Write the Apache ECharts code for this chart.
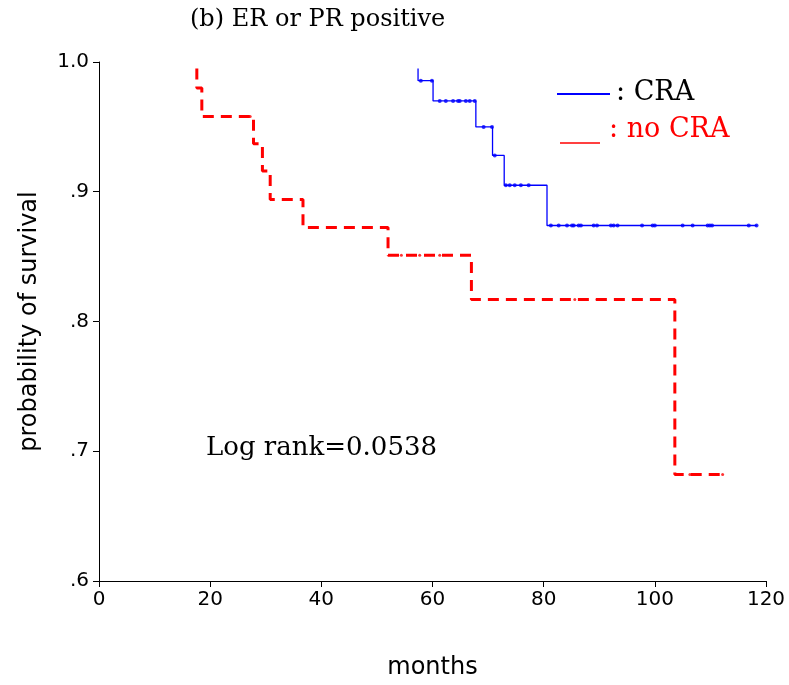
<!DOCTYPE html>
<html>
<head>
<meta charset="utf-8">
<script src="https://cdn.jsdelivr.net/npm/echarts@6/dist/echarts.min.js"></script>
<style>html,body{margin:0;padding:0;background:#fff}#c{width:789px;height:685px}</style>
</head>
<body>
<div id="c"></div>
<script>
// Kaplan-Meier step data: [month, survival after event]
const craSteps = [[57.4,0.995],[57.4,0.9856],[60.1,0.970],[67.8,0.950],[70.8,0.928],[72.9,0.905],[80.6,0.874],[118.4,0.874]];
const noCraSteps = [[17.6,0.995],[17.6,0.980],[18.5,0.958],[27.8,0.937],[29.4,0.916],[30.8,0.894],[36.7,0.8725],[52.0,0.851],[67.0,0.817],[103.6,0.682],[112.9,0.682]];
// censored observations
const craCensor = [
  [57.9,0.9856],[59.9,0.9856],
  [61.3,0.970],[62.4,0.970],[63.7,0.970],[64.6,0.970],[64.9,0.970],[66.0,0.970],[66.7,0.970],[67.6,0.970],
  [69.2,0.950],[70.7,0.950],
  [71.2,0.928],
  [73.2,0.905],[73.9,0.905],[74.8,0.905],[75.9,0.905],[77.3,0.905],
  [81.3,0.874],[82.7,0.874],[84.2,0.874],[85.1,0.874],[85.4,0.874],[86.3,0.874],[86.7,0.874],[89.0,0.874],[89.6,0.874],
  [92.1,0.874],[92.6,0.874],[93.3,0.874],[97.7,0.874],[99.6,0.874],[100.0,0.874],[105.0,0.874],[106.8,0.874],
  [109.5,0.874],[109.9,0.874],[110.3,0.874],[116.9,0.874],[118.3,0.874]
];
const noCraCensor = [[27.2,0.958],[54.4,0.851],[57.7,0.851],[61.3,0.851],[73.9,0.817],[77.5,0.817],[85.6,0.817],[89.6,0.817],[106.3,0.682],[112.2,0.682]];
const xTicks = [0,20,40,60,80,100,120];
const yTickLabels = {'0.6':'.6','0.7':'.7','0.8':'.8','0.9':'.9','1':'1.0'};

const chart = echarts.init(document.getElementById('c'), null, {renderer:'canvas'});
const serif = '"DejaVu Serif", "Liberation Serif", serif';
const sans = '"DejaVu Sans", "Liberation Sans", sans-serif';
chart.setOption({
  animation:false,
  backgroundColor:'#fff',
  grid:{left:99, right:23, top:62, bottom:104},
  xAxis:{
    type:'value', min:xTicks[0], max:xTicks[xTicks.length-1], interval:20,
    name:'months', nameLocation:'middle', nameGap:75,
    nameTextStyle:{fontFamily:sans, fontSize:24, color:'#000'},
    axisLine:{lineStyle:{color:'#000', width:1}},
    axisTick:{length:6, lineStyle:{color:'#000'}},
    axisLabel:{fontFamily:sans, fontSize:20, color:'#000', margin:9},
    splitLine:{show:false}
  },
  yAxis:{
    type:'value', min:0.6, max:1.0, interval:0.1,
    name:'probability of survival', nameLocation:'middle', nameGap:57, nameRotate:90,
    nameTextStyle:{fontFamily:sans, fontSize:24, color:'#000'},
    axisLine:{show:true, lineStyle:{color:'#000', width:1}},
    axisTick:{show:true, length:6, lineStyle:{color:'#000'}},
    axisLabel:{fontFamily:sans, fontSize:20, color:'#000', margin:10,
      formatter:v=>yTickLabels[String(Math.round(v*10)/10)] || ''},
    splitLine:{show:false}
  },
  series:[
    {type:'line', step:'end', data:craSteps, showSymbol:false, symbol:'none',
     lineStyle:{color:'#0000ff', width:1.3}},
    {type:'scatter', data:craCensor, symbol:'circle', symbolSize:4, itemStyle:{color:'#0000ff'}},
    {type:'line', step:'end', data:noCraSteps, showSymbol:false, symbol:'none',
     lineStyle:{color:'#ff0000', width:3, type:[11,7]}},
    {type:'scatter', data:noCraCensor, symbol:'circle', symbolSize:3, itemStyle:{color:'#ff0000'}}
  ],
  graphic:[
    {type:'text', left:190, top:8, style:{text:'(b) ER or PR positive', font:'24px '+serif, fill:'#000'}},
    {type:'text', left:206, top:435, style:{text:'Log rank=0.0538', font:'26px '+serif, fill:'#000'}},
    {type:'line', shape:{x1:557,y1:94,x2:610,y2:94}, style:{stroke:'#0000ff', lineWidth:2}},
    {type:'text', left:616, top:79, style:{text:': CRA', font:'27px '+serif, fill:'#000'}},
    {type:'line', shape:{x1:560,y1:143,x2:600,y2:143}, style:{stroke:'#ff0000', lineWidth:1.5}},
    {type:'text', left:609, top:116, style:{text:': no CRA', font:'27px '+serif, fill:'#ff0000'}}
  ]
});
</script>
</body>
</html>
